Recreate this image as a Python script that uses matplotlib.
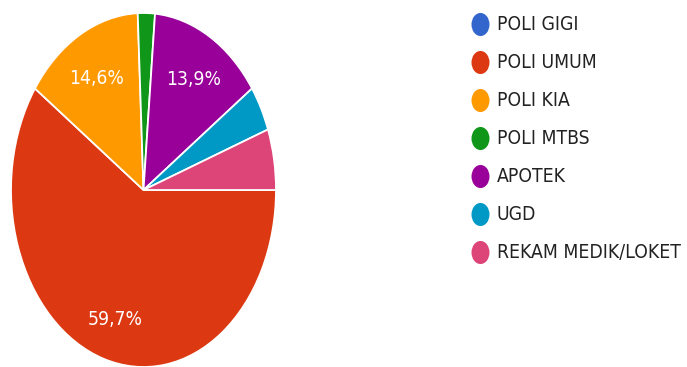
import matplotlib
matplotlib.use("Agg")
import matplotlib.pyplot as plt
from matplotlib import font_manager
from matplotlib.font_manager import FontProperties
from matplotlib.path import Path
from matplotlib.transforms import Affine2D, offset_copy

# Survey responses per service unit
categories = ["POLI GIGI", "POLI UMUM", "POLI KIA", "POLI MTBS", "APOTEK", "UGD", "REKAM MEDIK/LOKET"]
counts = [0, 86, 21, 3, 20, 6, 8]
colors = ["#3366CC", "#DC3912", "#FF9900", "#109618", "#990099", "#0099C6", "#DD4477"]


def pick_font():
    """Prefer a narrow sans face when one is installed."""
    trials = [("Liberation Sans Narrow", "normal"), ("Liberation Sans Narrow", "condensed"),
              ("DejaVu Sans", "condensed"), ("Roboto", "condensed"), ("Open Sans", "condensed")]
    for fam, stretch in trials:
        fp = FontProperties(family=fam, stretch=stretch)
        try:
            path = font_manager.findfont(fp, fallback_to_default=False)
        except Exception:
            continue
        low = path.lower()
        if "narrow" in low or "condensed" in low:
            return fam, stretch
    return "Liberation Sans", "normal"


family, stretch = pick_font()

fig = plt.figure(figsize=(6.87, 3.67), dpi=100)
renderer = fig.canvas.get_renderer()

# Size text so the longest legend entry spans about 183 px, capped near 15.5 pt
probe = fig.text(0, 0, categories[-1], fontsize=10, family=family, fontstretch=stretch)
w10 = probe.get_window_extent(renderer).width
probe.remove()
size = min(15.5, 10 * 183.0 / w10)

# Pie drawn slightly stretched vertically
ax = fig.add_axes([11 / 687, 0, 265 / 687, 354 / 367])


def fmt(p):
    return (f"{p:.1f}".replace(".", ",") + "%") if p >= 10 else ""


wedges, texts, autotexts = ax.pie(
    counts, colors=colors, startangle=0, counterclock=False,
    autopct=fmt, pctdistance=0.745, radius=1.0,
    wedgeprops=dict(edgecolor="white", linewidth=1.3),
    textprops=dict(color="white", fontsize=size, family=family, fontstretch=stretch),
)
ax.set_aspect("auto")
ax.set_xlim(-1, 1)
ax.set_ylim(-1, 1)
ax.axis("off")
for t in autotexts:
    t.set_transform(offset_copy(ax.transData, fig=fig, x=1, y=-4, units="dots"))

# Legend with elliptical dots
lax = fig.add_axes([0, 0, 1, 1])
lax.set_xlim(0, 687)
lax.set_ylim(367, 0)
lax.axis("off")
dot = Path.unit_circle().transformed(Affine2D().scale(0.78, 1.0))
row0, step = 23.5, 38.0
for i, (name, c) in enumerate(zip(categories, colors)):
    y = row0 + i * step
    lax.scatter([480], [y], s=16.6 ** 2, marker=dot, color=c, linewidths=0)
    lax.text(497, y + 0.5, name, va="center", ha="left", fontsize=size,
             family=family, fontstretch=stretch, color="#222222")

fig.savefig("out.png", dpi=100)
